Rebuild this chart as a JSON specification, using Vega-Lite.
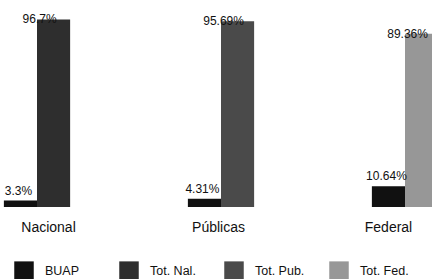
{
  "$schema": "https://vega.github.io/schema/vega-lite/v6.json",
  "autosize": {"type": "none"},
  "width": 432,
  "height": 194,
  "padding": {"left": 0, "top": 13, "right": 0, "bottom": 72},
  "background": "white",
  "config": {
    "view": {"stroke": null},
    "font": "Liberation Sans",
    "text": {"font": "Liberation Sans"}
  },
  "data": {
    "values": [
      {"grupo": "Nacional", "serie": "BUAP", "rol": "BUAP", "valor": 3.3, "etiqueta": "3.3%"},
      {"grupo": "Nacional", "serie": "Tot. Nal.", "rol": "Total", "valor": 96.7, "etiqueta": "96.7%"},
      {"grupo": "Públicas", "serie": "BUAP", "rol": "BUAP", "valor": 4.31, "etiqueta": "4.31%"},
      {"grupo": "Públicas", "serie": "Tot. Pub.", "rol": "Total", "valor": 95.69, "etiqueta": "95.69%"},
      {"grupo": "Federal", "serie": "BUAP", "rol": "BUAP", "valor": 10.64, "etiqueta": "10.64%"},
      {"grupo": "Federal", "serie": "Tot. Fed.", "rol": "Total", "valor": 89.36, "etiqueta": "89.36%"}
    ]
  },
  "resolve": {"scale": {"x": "independent"}, "axis": {"x": "independent"}},
  "layer": [
    {
      "mark": {"type": "point", "opacity": 0},
      "encoding": {
        "x": {
          "field": "grupo",
          "type": "nominal",
          "sort": ["Nacional", "Públicas", "Federal"],
          "scale": {"range": [-37, 473], "paddingInner": 0.61, "paddingOuter": 0.305},
          "axis": {
            "title": null,
            "labelAngle": 0,
            "domain": false,
            "ticks": false,
            "labelPadding": 13,
            "labelFontSize": 14,
            "labelColor": "#111111",
            "labelFont": "Liberation Sans"
          }
        }
      }
    },
    {
      "encoding": {
        "x": {
          "field": "grupo",
          "type": "nominal",
          "sort": ["Nacional", "Públicas", "Federal"],
          "scale": {"range": [-55, 497], "paddingInner": 0.64, "paddingOuter": 0.32},
          "axis": null
        },
        "xOffset": {
          "field": "rol",
          "type": "nominal",
          "sort": ["BUAP", "Total"],
          "scale": {"paddingInner": 0, "paddingOuter": 0}
        },
        "y": {
          "field": "valor",
          "type": "quantitative",
          "scale": {"domain": [0, 100]},
          "axis": null
        }
      },
      "layer": [
        {
          "mark": {"type": "bar"},
          "encoding": {
            "color": {
              "field": "serie",
              "type": "nominal",
              "scale": {
                "domain": ["BUAP", "Tot. Nal.", "Tot. Pub.", "Tot. Fed."],
                "range": ["#111111", "#2e2e2e", "#4a4a4a", "#979797"]
              },
              "legend": {
                "title": null,
                "orient": "none",
                "legendX": 14,
                "legendY": 248,
                "direction": "horizontal",
                "columns": 4,
                "gridAlign": "all",
                "symbolType": "square",
                "symbolSize": 380,
                "symbolStrokeWidth": 0,
                "labelFontSize": 12.5,
                "labelFont": "Liberation Sans",
                "labelColor": "#111111",
                "labelOffset": 11,
                "columnPadding": 24
              }
            }
          }
        },
        {
          "transform": [{"filter": "datum.rol === 'Total'"}],
          "mark": {"type": "text", "baseline": "middle", "align": "center", "dx": -14, "dy": 0, "fontSize": 12, "color": "#111111"},
          "encoding": {"text": {"field": "etiqueta"}}
        },
        {
          "transform": [{"filter": "datum.rol === 'BUAP'"}],
          "mark": {"type": "text", "baseline": "middle", "align": "center", "dx": -2, "dy": -10, "fontSize": 12, "color": "#111111"},
          "encoding": {"text": {"field": "etiqueta"}}
        }
      ]
    }
  ]
}
